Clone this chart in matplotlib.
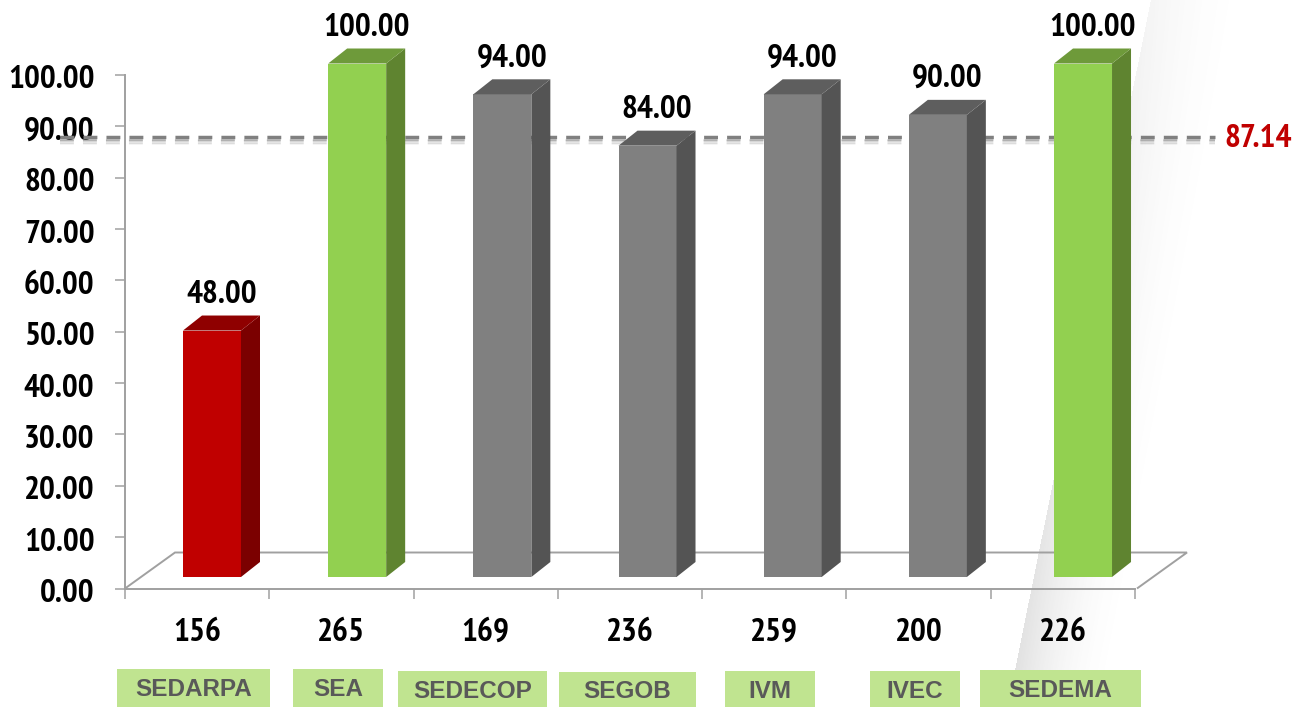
#!/usr/bin/env python3
"""Pseudo-3D bar chart: score per agency, with the mean as a dashed line."""

import numpy as np
import matplotlib
matplotlib.use("Agg")
import matplotlib.pyplot as plt
from matplotlib.patches import Polygon, Rectangle
from matplotlib.transforms import ScaledTranslation

counts = ["156", "265", "169", "236", "259", "200", "226"]
values = [48.0, 100.0, 94.0, 84.0, 94.0, 90.0, 100.0]
agencies = ["SEDARPA", "SEA", "SEDECOP", "SEGOB", "IVM", "IVEC", "SEDEMA"]
mean_value = 87.14
y_ticks = [0, 10, 20, 30, 40, 50, 60, 70, 80, 90, 100]

# ── Layout, in reference pixels ──────
W, H = 1297, 707
AX_L, AX_R, AX_TOP, AX_BOT = 125, 1135, 75, 588.5
BOXES = [(117, 270, 669), (293, 383, 669), (398, 547, 671), (559, 696, 672),
         (725, 815, 671), (870, 960, 671), (980, 1141, 670)]

RED = ("#C00000", "#7B0000", "#8F0000")
GREEN = ("#92D050", "#5F8430", "#6E9A3A")
GRAY = ("#808080", "#545454", "#5E5E5E")
bar_colors = [RED, GREEN, GRAY, GRAY, GRAY, GRAY, GREEN]

plt.rcParams["font.family"] = ["PT Sans Narrow", "Liberation Sans"]
plt.rcParams["font.weight"] = "bold"
plt.rcParams["lines.scale_dashes"] = False

fig = plt.figure(figsize=(W / 100, H / 100), dpi=100)

# ── Grey wedge in the background ──────
bg = fig.add_axes([0, 0, 1, 1], zorder=0)
bg.set_xlim(0, W)
bg.set_ylim(H, 0)
bg.axis("off")
xx, yy = np.meshgrid(np.arange(W) + 0.5, np.arange(H) + 0.5)
left = 1151 - (1151 - 1015) * yy / 670
u = (xx - left) / 105
shade = np.clip(1 - u, 0, 1) ** 2 * (u >= 0) * (0.06 + 0.12 * yy / 670)
rgba = np.zeros((H, W, 4))
rgba[..., :3] = 0.35
rgba[..., 3] = shade
bg.imshow(rgba, extent=(0, W, H, 0), aspect="auto", interpolation="bilinear")

# ── Chart ──────
ax = fig.add_axes([AX_L / W, 1 - AX_BOT / H, (AX_R - AX_L) / W, (AX_BOT - AX_TOP) / H], zorder=1)
ax.patch.set_alpha(0)
ax.set_xlim(0, 7)
ax.set_ylim(0, 100)
px_x = 7 / (AX_R - AX_L)
px_y = 100 / (AX_BOT - AX_TOP)

for side in ("top", "right"):
    ax.spines[side].set_visible(False)
for side in ("left", "bottom"):
    ax.spines[side].set_color("#A0A0A0")
    ax.spines[side].set_linewidth(1.4)

ax.set_yticks(y_ticks)
ax.set_yticklabels([f"{t:.2f}" for t in y_ticks], fontsize=24, color="black")
ax.set_xticks(np.arange(8))
ax.set_xticklabels([])
ax.set_xticks(np.arange(7) + 0.5, minor=True)
ax.set_xticklabels(counts, minor=True, fontsize=24, color="black")
ax.tick_params(axis="y", length=7, width=1.1, color="#A0A0A0", pad=15)
ax.tick_params(axis="x", which="major", length=7, width=1.1, color="#A0A0A0")
ax.tick_params(axis="x", which="minor", length=0, pad=21)

# y tick labels sit about 2 px lower than the ticks
nudge = ScaledTranslation(0, -2 / 100, fig.dpi_scale_trans)
for lbl in ax.get_yticklabels():
    lbl.set_transform(lbl.get_transform() + nudge)

# floor of the 3D box
floor_dx, floor_dy = 50 * px_x, 36 * px_y
floor = Polygon([(0, 0), (floor_dx, floor_dy), (7 + floor_dx + 2 * px_x, floor_dy), (7 + 2 * px_x, 0)],
                closed=False, fill=False, ec="#A0A0A0", lw=1.4, zorder=2, clip_on=False)
ax.add_patch(floor)

# mean line and its soft shadow
line_off = 0.78
mean_y = mean_value + line_off
x0, x1 = (60 - AX_L) * px_x, (1215 - AX_L) * px_x
dash = (0, (10.0, 6.55))
for dy, a in [(2.5, 0.50), (4, 0.38), (5.5, 0.24), (7, 0.10)]:
    ax.plot([x0, x1], [mean_y - dy * px_y] * 2, color="#808080", alpha=a, lw=1.2, ls=dash,
            dash_capstyle="butt", clip_on=False, zorder=3)
ax.plot([x0, x1], [mean_y, mean_y], color="#808080", lw=2.5, ls=dash,
        dash_capstyle="butt", clip_on=False, zorder=3.1)
ax.text((1258 - AX_L) * px_x, mean_y - 1.5 * px_y, f"{mean_value:.2f}", color="#C00000", fontsize=24,
        ha="center", va="center", clip_on=False)

# bars: front face from ax.bar, side and top faces from the same value
bar_w = 58 * px_x
depth_x, depth_y = 19 * px_x, 15 * px_y
base = 11.5 * px_y
centers = (87 + 145.17 * np.arange(7)) * px_x
ax.bar(centers, values, width=bar_w, bottom=base, color=[c[0] for c in bar_colors],
       zorder=4, clip_on=False)
for cx, v, (front, dark, top) in zip(centers, values, bar_colors):
    r = cx + bar_w / 2
    l = cx - bar_w / 2
    y = base + v
    ax.add_patch(Polygon([(r, base), (r + depth_x, base + depth_y), (r + depth_x, y + depth_y), (r, y)],
                         fc=dark, ec="none", zorder=4, clip_on=False))
    ax.add_patch(Polygon([(l, y), (l + depth_x, y + depth_y), (r + depth_x, y + depth_y), (r, y)],
                         fc=top, ec="none", zorder=4, clip_on=False))
    ax.text(cx + depth_x / 2, y + depth_y + 21 * px_y, f"{v:.2f}", color="black", fontsize=24,
            ha="center", va="center", clip_on=False, zorder=5)

# ── Agency name boxes ──────
for name, (x_a, x_b, y_a) in zip(agencies, BOXES):
    bg.add_patch(Rectangle((x_a, y_a), x_b - x_a, H - y_a, fc="#C0E490", ec="none", zorder=3))
    bg.text((x_a + x_b) / 2, (y_a + H) / 2 + 2, name, color="#595959", fontsize=17.5,
            family="Liberation Sans", ha="center", va="center", zorder=4)

fig.savefig("out.png", dpi=100)
